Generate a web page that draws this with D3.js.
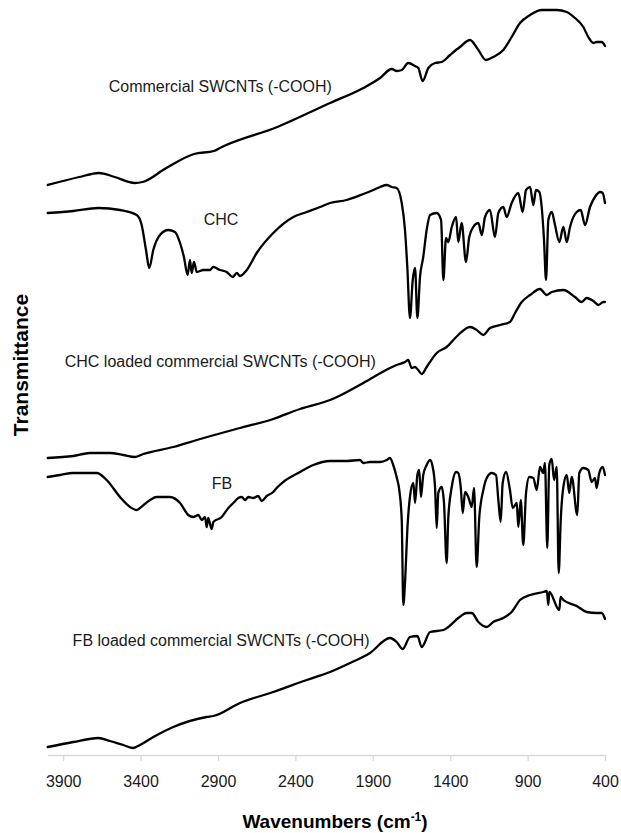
<!DOCTYPE html>
<html>
<head>
<meta charset="utf-8">
<script src="https://cdn.jsdelivr.net/npm/d3@7"></script>
<style>
  html, body { margin: 0; padding: 0; background: #fff; }
  svg { display: block; }
  text { font-family: Arial, "Liberation Sans", sans-serif; }
</style>
</head>
<body>
<svg id="chart" width="621" height="833"></svg>
<script>
// FTIR spectra, stacked with offsets. [wavenumber (cm-1), transmittance (a.u., offset)]
const commercialSWCNT = [
  [4000,570],[3796,578],[3669,582],[3566,578],[3438,572],[3387,573],[3234,587],[3055,601],
  [2926,604],[2875,608],[2517,628],[2176,652],[1961,667],[1853,677],[1778,686],[1746,684],
  [1713,685],[1671,692],[1627,689],[1606,687],[1578,674],[1541,687],[1498,692],[1455,693],
  [1401,700],[1337,708],[1272,715],[1218,705],[1169,695],[1122,698],[1057,705],[1003,718],
  [949,732],[884,740],[809,745],[712,745],[647,743],[594,737],[540,728],[508,718],
  [475,712],[454,713],[421,713],[400,709]
];

const chc = [
  [4000,542],[3835,544],[3673,547],[3533,545],[3425,540],[3393,530],[3365,505],[3344,487],
  [3318,505],[3275,520],[3221,525],[3178,523],[3145,512],[3120,498],[3096,480],[3081,495],
  [3070,482],[3055,493],[3037,483],[2995,485],[2952,485],[2930,488],[2887,485],[2844,483],
  [2805,478],[2779,482],[2758,479],[2714,485],[2650,502],[2543,522],[2413,538],[2327,543],
  [2241,548],[2176,552],[2069,555],[1961,561],[1897,565],[1853,568],[1810,570],[1778,568],
  [1746,567],[1713,552],[1692,525],[1677,488],[1660,437],[1642,475],[1627,487],[1612,437],
  [1595,478],[1574,498],[1552,525],[1530,540],[1487,542],[1459,535],[1444,475],[1427,517],
  [1412,513],[1390,528],[1362,538],[1348,513],[1326,532],[1298,493],[1277,518],[1251,528],
  [1218,532],[1196,520],[1175,538],[1143,545],[1111,518],[1089,542],[1057,548],[1035,538],
  [1003,552],[960,562],[932,543],[910,565],[884,568],[863,550],[846,565],[824,563],
  [809,548],[794,515],[781,475],[766,535],[744,543],[723,530],[695,513],[669,528],
  [647,513],[626,528],[583,543],[557,545],[529,530],[497,548],[465,558],[432,563],
  [415,562],[400,552]
];

const chcLoaded = [
  [4000,297],[3835,299],[3727,302],[3598,302],[3512,300],[3436,298],[3382,301],[3189,308],
  [3037,315],[2758,327],[2543,336],[2370,346],[2327,348],[2176,355],[1961,372],[1789,387],
  [1746,390],[1692,393],[1671,395],[1649,387],[1627,388],[1612,386],[1584,381],[1552,388],
  [1487,402],[1423,408],[1348,420],[1272,428],[1229,425],[1186,420],[1143,427],[1078,430],
  [1014,433],[981,442],[938,453],[884,460],[820,466],[776,460],[744,463],[669,465],
  [594,458],[551,453],[518,457],[475,454],[443,450],[411,453],[400,453]
];

const fb = [
  [4000,278],[3921,280],[3835,282],[3683,282],[3619,275],[3533,258],[3468,248],[3425,245],
  [3404,247],[3339,255],[3296,258],[3210,258],[3145,252],[3092,240],[3059,238],[3027,240],
  [3005,235],[2984,238],[2973,228],[2963,237],[2941,226],[2930,233],[2876,238],[2833,247],
  [2801,252],[2769,257],[2747,258],[2725,255],[2704,258],[2672,257],[2640,259],[2618,254],
  [2585,259],[2543,263],[2521,267],[2478,273],[2370,283],[2284,290],[2176,294],[2069,294],
  [1983,295],[1961,292],[1918,293],[1853,293],[1810,295],[1789,297],[1768,290],[1746,278],
  [1729,265],[1713,235],[1703,150],[1690,178],[1677,225],[1660,258],[1638,272],[1627,252],
  [1612,280],[1600,285],[1589,258],[1574,280],[1552,290],[1530,295],[1513,288],[1498,268],
  [1487,227],[1477,262],[1455,268],[1440,252],[1423,192],[1412,238],[1390,268],[1362,283],
  [1348,282],[1332,268],[1319,242],[1304,263],[1283,258],[1261,248],[1246,267],[1229,188],
  [1212,238],[1186,265],[1164,277],[1132,282],[1104,280],[1089,255],[1074,233],[1061,272],
  [1039,283],[1014,265],[996,247],[970,252],[960,228],[944,255],[928,210],[910,262],
  [889,278],[863,277],[841,265],[820,288],[799,282],[788,292],[773,207],[760,290],
  [744,296],[729,275],[712,288],[699,182],[686,235],[669,268],[647,280],[631,262],
  [615,278],[579,240],[566,282],[540,287],[508,285],[486,273],[465,277],[454,267],
  [437,282],[415,288],[400,280]
];

const fbLoaded = [
  [4000,8],[3835,13],[3673,17],[3598,14],[3512,10],[3447,7],[3404,10],[3318,18],
  [3189,28],[2973,38],[2930,39],[2758,52],[2543,63],[2327,75],[2176,83],[2047,92],
  [1918,102],[1789,117],[1746,113],[1707,106],[1660,118],[1612,119],[1584,108],[1530,123],
  [1444,125],[1412,128],[1348,137],[1293,142],[1261,142],[1218,133],[1164,128],[1122,133],
  [1057,137],[1003,143],[949,155],[884,160],[799,163],[776,164],[766,150],[760,163],
  [695,145],[687,158],[669,155],[583,149],[518,143],[454,142],[421,142],[400,136]
];

const spectra = [commercialSWCNT, chc, chcLoaded, fb, fbLoaded];

const labelTexts = [
  "Commercial SWCNTs (-COOH)",
  "CHC",
  "CHC loaded commercial SWCNTs (-COOH)",
  "FB",
  "FB loaded commercial SWCNTs (-COOH)"
];
const labelWn = [2885, 2880, 2885, 2875, 2880];
const labelVal = [669, 536, 394, 272, 115];

const xTicks = [3900, 3400, 2900, 2400, 1900, 1400, 900, 400];

const svg = d3.select("#chart");

const x = d3.scaleLinear().domain([4000, 400]).range([47.7, 605]);
const y = d3.scaleLinear().domain([0, 755]).range([755, 0]);

// x axis
const xAxis = d3.axisBottom(x)
  .tickValues(xTicks)
  .tickSize(6)
  .tickPadding(14.5)
  .tickSizeOuter(0)
  .tickFormat(d3.format("d"));

const gx = svg.append("g")
  .attr("transform", `translate(0,${y(0)})`)
  .call(xAxis);
gx.select(".domain").attr("stroke", "#d9d9d9").attr("stroke-width", 1.3);
gx.selectAll(".tick line").attr("stroke", "#d9d9d9").attr("stroke-width", 1.3);
gx.selectAll(".tick text")
  .attr("fill", "#1a1a1a")
  .style("font-size", "16px")
  .style("font-family", "Arial, 'Liberation Sans', sans-serif");

// spectra
const line = d3.line()
  .x(d => x(d[0]))
  .y(d => y(d[1]))
  .curve(d3.curveMonotoneX);

svg.append("g")
  .selectAll("path")
  .data(spectra)
  .join("path")
  .attr("d", line)
  .attr("fill", "none")
  .attr("stroke", "#000")
  .attr("stroke-width", 2.3)
  .attr("stroke-linejoin", "round")
  .attr("stroke-linecap", "round");

// curve labels
svg.append("g")
  .selectAll("text")
  .data(labelTexts)
  .join("text")
  .attr("x", (d, i) => x(labelWn[i]))
  .attr("y", (d, i) => y(labelVal[i]))
  .attr("dy", "0.35em")
  .attr("text-anchor", "middle")
  .attr("fill", "#1a1a1a")
  .style("font-size", "16px")
  .text(d => d);

// axis titles
const xt = svg.append("text")
  .attr("x", 335)
  .attr("y", 828)
  .attr("text-anchor", "middle")
  .attr("fill", "#000")
  .style("font-size", "19px")
  .style("font-weight", "bold");
xt.append("tspan").text("Wavenumbers (cm");
xt.append("tspan").attr("dy", "-7").style("font-size", "12px").text("-1");
xt.append("tspan").attr("dy", "7").text(")");

svg.append("text")
  .attr("transform", "translate(28,365) rotate(-90)")
  .attr("text-anchor", "middle")
  .attr("fill", "#000")
  .style("font-size", "21px")
  .style("font-weight", "bold")
  .text("Transmittance");
</script>
</body>
</html>
